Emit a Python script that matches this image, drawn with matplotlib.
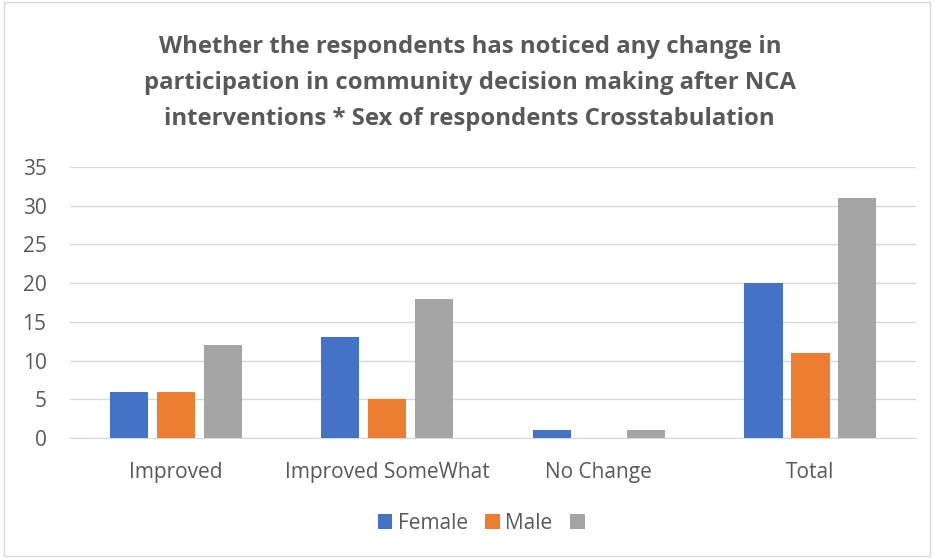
import matplotlib.pyplot as plt
import numpy as np

categories = ["Improved", "Improved SomeWhat", "No Change", "Total"]
female = [6, 13, 1, 20]
male = [6, 5, 0, 11]
total = [12, 18, 1, 31]
series_names = ["Female", "Male", " "]
colors = ["#4472C4", "#ED7D31", "#A5A5A5"]

plt.rcParams["font.family"] = ["Open Sans", "DejaVu Sans"]

fig = plt.figure(figsize=(9.34, 5.58), dpi=100)
ax = fig.add_axes([0.075, 0.215, 0.906, 0.486])

x = np.arange(len(categories))
width = 0.18
step = 0.222
for i, (vals, name, col) in enumerate(zip([female, male, total], series_names, colors)):
    ax.bar(x + (i - 1) * step, vals, width, color=col, label=name, zorder=3)

ax.set_xlim(-0.5, len(categories) - 0.5)
ax.set_ylim(0, 35)
ax.set_yticks(range(0, 36, 5))
ax.set_xticks(x)
ax.set_xticklabels(categories)
ax.tick_params(axis="both", length=0, labelsize=15, colors="#595959")
ax.tick_params(axis="x", pad=17)
ax.tick_params(axis="y", pad=17)
ax.grid(axis="y", color="#D9D9D9", linewidth=1, zorder=0)
for s in ["top", "right", "left"]:
    ax.spines[s].set_visible(False)
ax.spines["bottom"].set_color("#D9D9D9")

fig.suptitle("Whether the respondents has noticed any change in\n"
             "participation in community decision making after NCA\n"
             "interventions * Sex of respondents Crosstabulation",
             x=0.503, y=0.937, fontsize=17.2, fontweight="bold", color="#595959",
             linespacing=1.66)

fig.legend(loc="center", bbox_to_anchor=(0.521, 0.062), ncol=3, frameon=False,
           fontsize=15, labelcolor="#595959", handlelength=0.7, handleheight=0.7,
           handletextpad=0.25, columnspacing=0.85)

fig.patches.append(plt.Rectangle((0.004, 0.004), 0.992, 0.992, transform=fig.transFigure,
                                 fill=False, edgecolor="#D9D9D9", linewidth=1))

fig.savefig("out.png", dpi=100)
